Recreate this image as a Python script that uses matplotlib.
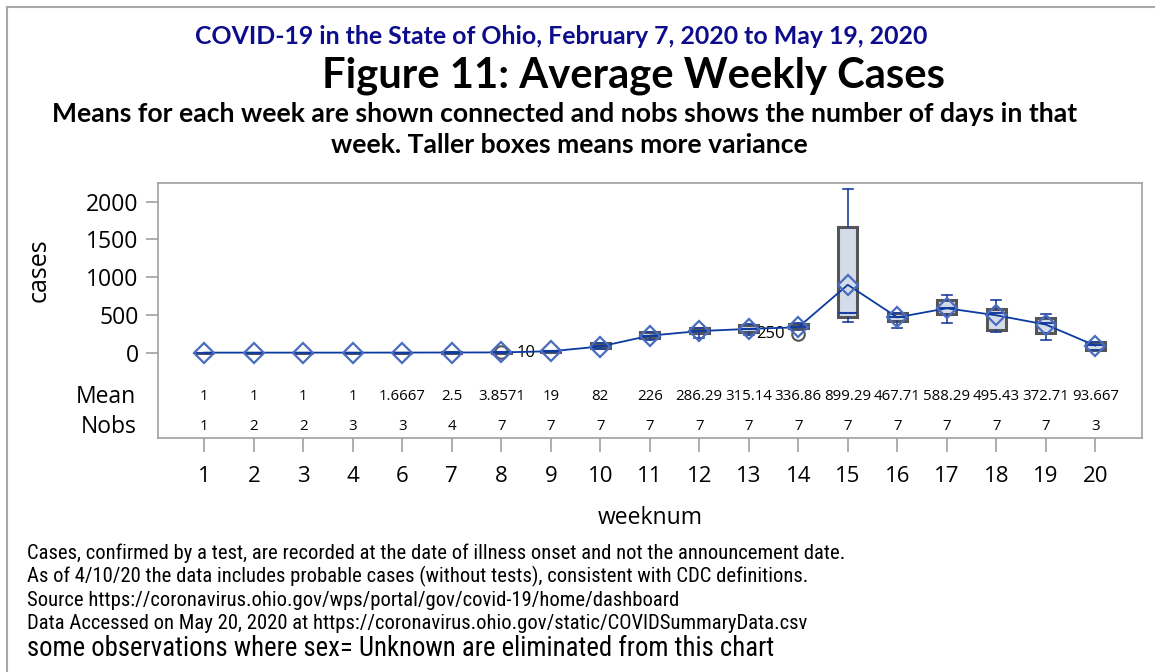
import matplotlib
matplotlib.use("Agg")
import matplotlib.pyplot as plt
import matplotlib.transforms as mtransforms

# ---------------- data ----------------
weeks = [1, 2, 3, 4, 6, 7, 8, 9, 10, 11, 12, 13, 14, 15, 16, 17, 18, 19, 20]
means = [1, 1, 1, 1, 1.6667, 2.5, 3.8571, 19, 82, 226, 286.29, 315.14, 336.86,
         899.29, 467.71, 588.29, 495.43, 372.71, 93.667]
nobs = [1, 2, 2, 3, 3, 4, 7, 7, 7, 7, 7, 7, 7, 7, 7, 7, 7, 7, 3]
q1 = [1, 1, 1, 1, 1, 2, 1, 15, 60, 200, 258, 272, 325, 477, 425, 510, 300, 258, 35]
medians = [1, 1, 1, 1, 2, 2.5, 3, 18, 85, 225, 290, 310, 340, 522, 470, 590, 520, 390, 100]
q3 = [1, 1, 1, 1, 2, 3, 5, 24, 122, 268, 322, 365, 380, 1661, 520, 695, 575, 455, 140]
whisk_lo = [1, 1, 1, 1, 1, 1, 1, 10, 45, 170, 190, 240, 300, 403, 323, 389, 274, 168, 35]
whisk_hi = [1, 1, 1, 1, 2, 4, 5, 28, 130, 275, 330, 375, 400, 2164, 520, 764, 698, 513, 140]
outlier_week = [8, 14]
outlier_val = [10, 250]
outlier_side = ["right", "left"]
yticks = [0, 500, 1000, 1500, 2000]

title1 = "COVID-19 in the State of Ohio, February 7, 2020 to May 19, 2020"
title2 = "Figure 11: Average Weekly Cases"
subtitle1 = "Means for each week are shown connected and nobs shows the number of days in that"
subtitle2 = "week. Taller boxes means more variance"
footnotes = [
    "Cases, confirmed by a test, are recorded at the date of illness onset and not the announcement date.",
    "As of 4/10/20 the data includes probable cases (without tests), consistent with CDC definitions.",
    "Source https://coronavirus.ohio.gov/wps/portal/gov/covid-19/home/dashboard",
    "Data Accessed on May 20, 2020 at https://coronavirus.ohio.gov/static/COVIDSummaryData.csv",
]
footnote_last = "some observations where sex= Unknown are eliminated from this chart"

# ---------------- figure ----------------
W, H = 1155, 672
fig = plt.figure(figsize=(W / 100, H / 100), dpi=100)
renderer = fig.canvas.get_renderer()
main_font = ["Open Sans", "DejaVu Sans"]
bold_font = ["Lato", "DejaVu Sans"]
narrow_font = ["Liberation Sans Narrow", "Roboto Condensed", "Liberation Sans", "DejaVu Sans"]


def fit_text(x, y, s, width_px, size0, **kw):
    t = fig.text(x / W, 1 - y / H, s, fontsize=size0, **kw)
    w = t.get_window_extent(renderer).width
    t.set_fontsize(size0 * width_px / w)
    return t


# outer border
fig.add_artist(plt.Line2D([7 / W, 7 / W], [1 - 7 / H, 0], transform=fig.transFigure,
                          color="#a8a8a8", lw=1.5))
fig.add_artist(plt.Line2D([7 / W, 1], [1 - 7 / H, 1 - 7 / H], transform=fig.transFigure,
                          color="#a8a8a8", lw=1.5))

L, R, T, B = 158, 1142, 183, 438
ax = fig.add_axes([L / W, 1 - B / H, (R - L) / W, (B - T) / H])

pos = list(range(len(weeks)))
stats = []
for i in range(len(weeks)):
    fl = [v for w, v in zip(outlier_week, outlier_val) if w == weeks[i]]
    stats.append(dict(q1=q1[i], med=medians[i], q3=q3[i], whislo=whisk_lo[i],
                      whishi=whisk_hi[i], fliers=fl, mean=means[i]))

blue = "#1e3f9e"
ax.bxp(stats, positions=pos, widths=0.38, showmeans=False, patch_artist=True,
       boxprops=dict(facecolor="#d4dcea", edgecolor="#555555", linewidth=2.2),
       medianprops=dict(color=blue, linewidth=1.5),
       whiskerprops=dict(color=blue, linewidth=1.2),
       capprops=dict(color=blue, linewidth=1.2),
       capwidths=0.2,
       flierprops=dict(marker="o", markerfacecolor="none", markeredgecolor="#555555",
                       markersize=9, markeredgewidth=1.5))

ax.plot(pos, means, color="#0b3aa0", lw=1.3, zorder=4)
ax.plot(pos, means, linestyle="none", marker="D", markersize=10.5, markerfacecolor="none",
        markeredgecolor="#4a6cc0", markeredgewidth=1.6, zorder=5)

for w, v, side in zip(outlier_week, outlier_val, outlier_side):
    xi = weeks.index(w)
    if side == "right":
        ax.annotate(str(v), (xi, v), xytext=(11, -1), textcoords="offset points",
                    ha="left", va="center", fontsize=12, family=main_font)
    else:
        ax.annotate(str(v), (xi, v), xytext=(-10, 0), textcoords="offset points",
                    ha="right", va="center", fontsize=12, family=main_font)

# axis limits: data region with inset table below
y0_px, px_per_unit = 352.7, 37.75 / 500
ax.set_ylim(-(B - y0_px) / px_per_unit, (y0_px - T) / px_per_unit)
ax.set_xlim((L - 204.3) / 49.5, (R - 204.3) / 49.5)

ax.set_yticks(yticks)
ax.set_yticklabels([str(t) for t in yticks], fontsize=16.5, family=main_font)
ax.tick_params(axis="y", length=9, color="#a0a0a0", width=1.2, pad=5)
ax.set_xticks(pos)
ax.set_xticklabels([str(w) for w in weeks], fontsize=16, family=main_font)
ax.tick_params(axis="x", length=10, color="#a0a0a0", width=1.2, pad=10)
for sp in ax.spines.values():
    sp.set_color("#a0a0a0")
    sp.set_linewidth(1.2)

ax.set_ylabel("cases", fontsize=18, family=main_font)
ax.yaxis.set_label_coords(-0.108, 0.66)
ax.set_xlabel("weeknum", fontsize=16.5, family=main_font, labelpad=14)

# inset statistic table
trans = mtransforms.blended_transform_factory(ax.transData, ax.transAxes)
mean_y = (B - 397) / (B - T)
nobs_y = (B - 427) / (B - T)
for i in pos:
    ax.text(i, mean_y, "{:.5g}".format(means[i]), transform=trans, ha="center", va="center",
            fontsize=10.8, family=main_font)
    ax.text(i, nobs_y, str(nobs[i]), transform=trans, ha="center", va="center",
            fontsize=10.8, family=main_font)
ax.text(-0.022, mean_y, "Mean", transform=ax.transAxes, ha="right", va="center",
        fontsize=16.5, family=main_font)
ax.text(-0.022, nobs_y, "Nobs", transform=ax.transAxes, ha="right", va="center",
        fontsize=16.5, family=main_font)

# titles (scaled to the reference widths)
fit_text(561.5, 37, title1, 733, 16, ha="center", va="center", fontweight="bold",
         color="#0c0c8c", family=bold_font)
fit_text(633, 76, title2, 622, 26, ha="center", va="center", fontweight="bold",
         color="black", family=bold_font)
t_sub = fit_text(564.5, 114, subtitle1, 1025, 16, ha="center", va="center",
                 fontweight="bold", color="black", family=bold_font)
fig.text(569.5 / W, 1 - 145 / H, subtitle2, ha="center", va="center",
         fontsize=t_sub.get_fontsize(), fontweight="bold", color="black", family=bold_font)

# footnotes
t_f = fit_text(27, 553, footnotes[0], 811, 13, ha="left", va="center", family=narrow_font)
for k, s in enumerate(footnotes[1:], start=1):
    fig.text(27 / W, 1 - (553 + 23.5 * k) / H, s, ha="left", va="center",
             fontsize=t_f.get_fontsize(), family=narrow_font)
fit_text(27, 648, footnote_last, 749, 15, ha="left", va="center", family=narrow_font)

fig.savefig("out.png", dpi=100)
